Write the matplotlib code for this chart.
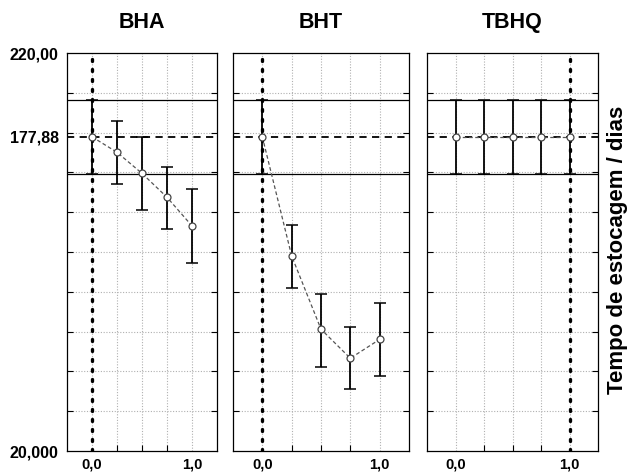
import matplotlib
matplotlib.use("Agg")
import matplotlib.pyplot as plt

plt.rcParams['font.family'] = ['Liberation Sans', 'DejaVu Sans']

levels = [0.0, 0.25, 0.5, 0.75, 1.0]
titles = ["BHA", "BHT", "TBHQ"]
current_x = [0.0, 0.0, 1.0]
pred_current = 177.88
ci_upper = 196.6
ci_lower = 159.4

bha_mean = [177.88, 170.1, 159.5, 147.5, 133.1]
bha_low = [159.4, 154.0, 141.1, 131.6, 114.6]
bha_high = [196.6, 185.8, 177.9, 162.9, 151.5]

bht_mean = [177.88, 118.0, 81.2, 66.6, 76.1]
bht_low = [159.4, 102.1, 62.0, 51.0, 57.7]
bht_high = [196.6, 133.6, 98.9, 82.3, 94.5]

tbhq_mean = [177.88, 177.88, 177.88, 177.88, 177.88]
tbhq_low = [159.4, 159.4, 159.4, 159.4, 159.4]
tbhq_high = [196.6, 196.6, 196.6, 196.6, 196.6]

means = [bha_mean, bht_mean, tbhq_mean]
lows = [bha_low, bht_low, tbhq_low]
highs = [bha_high, bht_high, tbhq_high]

y_ticklabels = ["20,000", "177,88", "220,00"]
y_tickvals = [20.0, 177.88, 220.0]
ylabel = "Tempo de estocagem / dias"

W, H = 627, 473
fig = plt.figure(figsize=(W / 100, H / 100), dpi=100)
panels_px = [(67, 217), (233, 409), (427, 598)]
top_px, bot_px = 53, 451

for i, (l, r) in enumerate(panels_px):
    ax = fig.add_axes([l / W, 1 - bot_px / H, (r - l) / W, (bot_px - top_px) / H])
    ax.set_xlim(-0.25, 1.25)
    ax.set_ylim(20, 220)
    # grid
    for gy in range(40, 220, 20):
        ax.axhline(gy, color="#b0b0b0", lw=0.8, ls=(0, (1, 1.5)), zorder=1)
    for gx in levels:
        ax.axvline(gx, color="#b0b0b0", lw=0.8, ls=(0, (1, 1.5)), zorder=1)
    # CI lines and current prediction
    ax.axhline(ci_upper, color="black", lw=0.9, zorder=2)
    ax.axhline(ci_lower, color="black", lw=0.9, zorder=2)
    ax.axhline(pred_current, color="black", lw=1.3, ls=(0, (4, 3)), zorder=2)
    ax.axvline(current_x[i], color="black", lw=2.4, ls=(0, (0.6, 2.4)),
               dash_capstyle="round", zorder=3)
    m = means[i]
    lo = [a - b for a, b in zip(m, lows[i])]
    hi = [b - a for a, b in zip(m, highs[i])]
    ax.errorbar(levels, m, yerr=[lo, hi], fmt="none", ecolor="black",
                elinewidth=1.3, capsize=4, capthick=1.1, zorder=4)
    ax.plot(levels, m, color="#555555", lw=0.9, ls=(0, (3, 2)), zorder=5)
    ax.plot(levels, m, "o", mfc="white", mec="#444444", ms=5, mew=0.9, zorder=6)

    ax.set_xticks([0.0, 1.0])
    ax.set_xticklabels(["0,0", "1,0"], fontsize=10.5, fontweight="bold")
    ax.set_xticks(levels, minor=True)
    ax.set_yticks(range(40, 220, 20), minor=True)
    if i == 0:
        ax.set_yticks(y_tickvals)
        ax.set_yticklabels(y_ticklabels, fontsize=11.5, fontweight="bold")
    else:
        ax.set_yticks([])
    ax.tick_params(which="both", direction="in", left=True, right=True,
                   bottom=True, top=False, length=4, width=0.8)
    ax.tick_params(axis="y", which="major", length=0, pad=6)
    ax.tick_params(axis="x", which="major", length=0, pad=5)
    for sp in ax.spines.values():
        sp.set_linewidth(0.9)
    ax.set_title(titles[i], fontsize=15.5, fontweight="bold", pad=18)

fig.text(618 / W, 1 - 250 / H, ylabel, rotation=90, fontsize=16, fontweight="bold",
         ha="center", va="center")

fig.savefig("out.png", dpi=100)
